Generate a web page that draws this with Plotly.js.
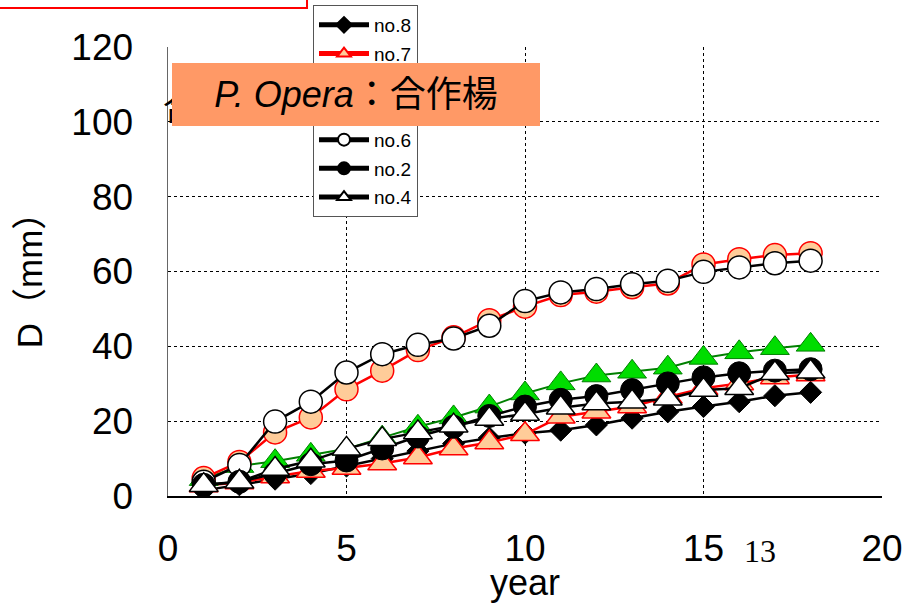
<!DOCTYPE html>
<html>
<head>
<meta charset="utf-8">
<script src="https://cdn.plot.ly/plotly-3.0.1.min.js"></script>
<style>html,body{margin:0;padding:0;background:#fff;}#chart{width:918px;height:603px;}</style>
</head>
<body>
<div id="chart"></div>
<script>
// ---- data ----
const years = [1,2,3,4,5,6,7,8,9,10,11,12,13,14,15,16,17,18];
const no8 = [1.5,3.0,4.5,6.0,8.0,10.0,12.0,14.0,15.5,16.8,17.6,19.0,20.8,22.5,23.9,25.2,26.8,27.7];
const no7 = [2.8,3.6,5.2,6.7,7.5,8.7,10.3,12.7,14.3,16.5,21.2,22.5,23.9,26.5,28.8,30.1,31.7,32.5];
const no5 = [4.5,8.0,9.3,11.0,12.6,15.6,18.5,21.0,23.9,27.4,30.1,32.2,33.2,34.3,36.9,38.4,39.5,40.4];
const no3 = [4.8,9.1,17.0,21.0,28.5,33.5,39.0,42.4,47.0,50.6,53.7,54.6,55.8,56.8,61.9,63.3,64.4,64.9];
const no6 = [3.8,8.3,19.9,25.2,33.0,37.9,40.4,42.1,45.5,52.1,54.4,55.3,56.6,57.5,59.9,61.1,62.2,62.9];
const no2 = [3.0,3.8,6.0,8.5,9.5,12.7,15.9,18.5,21.4,23.9,25.7,26.7,28.3,30.1,31.7,32.8,33.5,33.9];
const no4 = [2.9,3.8,7.2,9.4,12.6,15.2,17.0,18.8,20.6,21.9,23.6,24.7,25.2,26.0,28.3,28.8,32.8,33.2];
const seriesNames = ['no.8','no.7','no.5','no.3','no.6','no.2','no.4'];
const xTicks = [0,5,10,15,20];
const yTicks = [0,20,40,60,80,100,120];
const boxText = '<i>P. Opera</i>：合作楊';
const pageNumber = '13';

const F = 'Liberation Sans, Arial, Noto Sans CJK JP, sans-serif';

function tr(name, y, sym, size, fill, edge, edgeW, lineColor, lineW){
  return {
    x: years, y: y, name: name, legendgroup: name, type: 'scatter', mode: 'lines+markers',
    line: {color: lineColor, width: lineW},
    marker: {symbol: sym, size: size, color: fill, line: {color: edge, width: edgeW}}
  };
}

const data = [
  tr(seriesNames[0], no8, 'diamond', 17, '#000000', '#000000', 1, '#000000', 2.5),
  tr(seriesNames[1], no7, 'triangle-up', 25, '#FFCC99', '#FF0000', 1.5, '#FF0000', 2.5),
  tr(seriesNames[2], no5, 'triangle-up', 25, '#00DD00', '#008000', 1, '#008000', 2),
  tr(seriesNames[3], no3, 'circle', 23, '#FFCC99', '#FF0000', 1.5, '#FF0000', 2.5),
  tr(seriesNames[4], no6, 'circle', 23, '#FFFFFF', '#000000', 1.5, '#000000', 2.5),
  tr(seriesNames[5], no2, 'circle', 23, '#000000', '#000000', 1, '#000000', 2.5),
  tr(seriesNames[6], no4, 'triangle-up', 25, '#FFFFFF', '#000000', 1.5, '#000000', 2.5)
];

const layout = {
  width: 918, height: 603,
  margin: {l: 168, r: 36, t: 47, b: 107, pad: 0, autoexpand: false},
  paper_bgcolor: '#ffffff', plot_bgcolor: '#ffffff',
  font: {family: F, color: '#000000'},
  showlegend: true,
  legend: {
    x: (313-168)/714, y: (496-5)/449, xanchor: 'left', yanchor: 'top',
    bgcolor: '#ffffff', bordercolor: '#555555', borderwidth: 1,
    font: {family: F, size: 19, color: '#000000'},
    itemsizing: 'constant', itemwidth: 50, tracegroupgap: 1,
    traceorder: 'grouped'
  },
  xaxis: {
    range: [0, 20], tickvals: xTicks, ticktext: xTicks.map(String),
    showgrid: true, gridcolor: '#000000', griddash: 'dot', gridwidth: 1,
    zeroline: false, showline: true, linecolor: '#000000', linewidth: 1.5,
    ticks: '', ticklabelstandoff: 19, automargin: false,
    tickfont: {family: F, size: 37, color: '#000000'},
    title: {text: 'year', font: {family: F, size: 36, color: '#000000'}, standoff: 0}
  },
  yaxis: {
    range: [0, 120], tickvals: yTicks, ticktext: yTicks.map(String),
    showgrid: true, gridcolor: '#000000', griddash: 'dot', gridwidth: 1,
    zeroline: false, showline: true, linecolor: '#666666', linewidth: 1.5,
    ticks: '', ticklabelstandoff: 26, automargin: false,
    tickfont: {family: F, size: 37, color: '#000000'},
    title: {text: 'D（mm）', font: {family: F, size: 35, color: '#000000'}, standoff: 18}
  },
  shapes: [
    {type: 'rect', xref: 'paper', yref: 'paper', x0: -0.25, x1: 0.1947, y0: 1.0869, y1: 1.14,
     line: {color: '#FF0000', width: 2}, fillcolor: '#ffffff', layer: 'above'}
  ],
  annotations: [
    {xref: 'paper', yref: 'paper', x: -0.01, y: 0.865, xanchor: 'left', yanchor: 'middle',
     text: '合作楊', showarrow: false, font: {family: F, size: 34, color: '#000000'}},
    {xref: 'paper', yref: 'paper', x: 0.2633, y: 0.8942, xanchor: 'center', yanchor: 'middle',
     text: boxText, showarrow: false, width: 368, height: 63, borderpad: 0, borderwidth: 0,
     bgcolor: '#FF9966', align: 'center', valign: 'middle',
     font: {family: F, size: 36, color: '#000000'}},
    {xref: 'paper', yref: 'paper', x: (760-168)/714, y: (496-551)/449, xanchor: 'center', yanchor: 'middle',
     text: pageNumber, showarrow: false,
     font: {family: 'Liberation Serif, Times New Roman, serif', size: 32, color: '#000000'}}
  ]
};

Plotly.newPlot('chart', data, layout, {displayModeBar: false, staticPlot: true});
</script>
</body>
</html>
